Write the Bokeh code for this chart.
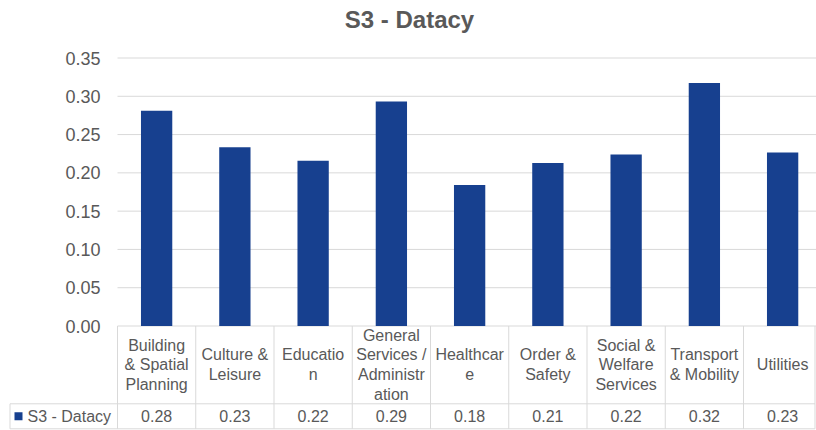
from bokeh.plotting import figure
from bokeh.models import FixedTicker, Range1d, PrintfTickFormatter
from bokeh.embed import file_html
from bokeh.resources import INLINE
from bokeh.core.properties import value

# ---- data ----
chart_title = "S3 - Datacy"
series_name = "S3 - Datacy"
categories = [
    "Building\n& Spatial\nPlanning",
    "Culture &\nLeisure",
    "Educatio\nn",
    "General\nServices /\nAdministr\nation",
    "Healthcar\ne",
    "Order &\nSafety",
    "Social &\nWelfare\nServices",
    "Transport\n& Mobility",
    "Utilities",
]
values = [0.2812, 0.2333, 0.2159, 0.2933, 0.1841, 0.2129, 0.2241, 0.3173, 0.2267]
y_ticks = [0.0, 0.05, 0.10, 0.15, 0.20, 0.25, 0.30, 0.35]

# ---- style ----
FONT = "Liberation Sans"
GRAY = "#595959"
LINE = "#D9D9D9"
BAR = "#17408F"

W, H = 816, 430
n = len(categories)
ymax = y_ticks[-1]
k = ymax / 268.0                 # data units per pixel (vertical)
unit = 78.25                     # pixels per category (horizontal)
xb0 = -117.0 / unit              # left edge of the canvas
x1 = xb0 + W / unit              # right edge of the canvas
xs = [i + 0.5 for i in range(n)]

p = figure(width=W, height=H,
           x_range=Range1d(xb0, x1), y_range=Range1d(-104.5 * k, ymax + 57.5 * k),
           output_backend="svg", toolbar_location=None, x_axis_location=None,
           min_border_left=0, min_border_right=0, min_border_top=0, min_border_bottom=0)
p.outline_line_color = None
p.background_fill_color = "white"
p.xgrid.visible = False
p.ygrid.visible = False

ax = p.yaxis[0]
ax.fixed_location = 0
ax.ticker = FixedTicker(ticks=y_ticks)
ax.formatter = PrintfTickFormatter(format="%.2f")
ax.axis_line_color = None
ax.major_tick_line_color = None
ax.minor_tick_line_color = None
ax.major_tick_out = 0
ax.major_label_text_font = FONT
ax.major_label_text_font_size = "18px"
ax.major_label_text_color = GRAY
ax.major_label_standoff = 17

# right edge of the (cropped) table
xr = x1 - 1.5 / unit

# horizontal gridlines (plot area only)
p.segment(x0=[0] * len(y_ticks), y0=y_ticks, x1=[x1] * len(y_ticks), y1=y_ticks,
          line_color=LINE, line_width=1)

p.vbar(x=xs, top=values, bottom=0, width=0.4, fill_color=BAR, line_color=None)

# ---- data table ----
row1 = -77.8 * k   # bottom of category header row
row2 = -102.8 * k  # bottom of value row
xl = xb0 + 9.5 / unit
p.segment(x0=[xl, xl], y0=[row1, row2], x1=[xr, xr], y1=[row1, row2],
          line_color=LINE, line_width=1)
vx = list(range(n)) + [xr]
p.segment(x0=vx, y0=[0] * len(vx), x1=vx, y1=[row2] * len(vx), line_color=LINE, line_width=1)
p.segment(x0=[xl], y0=[row1], x1=[xl], y1=[row2], line_color=LINE, line_width=1)

p.text(x=xs, y=[row1 / 2] * n, text=categories,
       text_align="center", text_baseline="middle",
       text_font=value(FONT), text_font_size="16px", text_color=GRAY,
       text_line_height=1.17)

ymid = (row1 + row2) / 2
p.scatter(x=[xb0 + 18 / unit], y=[ymid], marker="square", size=8, fill_color=BAR, line_color=None)
p.text(x=[xb0 + 27 / unit], y=[ymid], text=[series_name],
       text_align="left", text_baseline="middle",
       text_font=value(FONT), text_font_size="16px", text_color=GRAY)
p.text(x=xs, y=[ymid] * n, text=["%.2f" % v for v in values],
       text_align="center", text_baseline="middle",
       text_font=value(FONT), text_font_size="16px", text_color=GRAY)

# ---- title ----
p.text(x=[xb0 + 409 / unit], y=[ymax + (57.5 - 19) * k], text=[chart_title],
       text_align="center", text_baseline="middle",
       text_font=value(FONT), text_font_size="24px", text_font_style="bold",
       text_color=GRAY)

open("out.html", "w").write(file_html(p, INLINE))
